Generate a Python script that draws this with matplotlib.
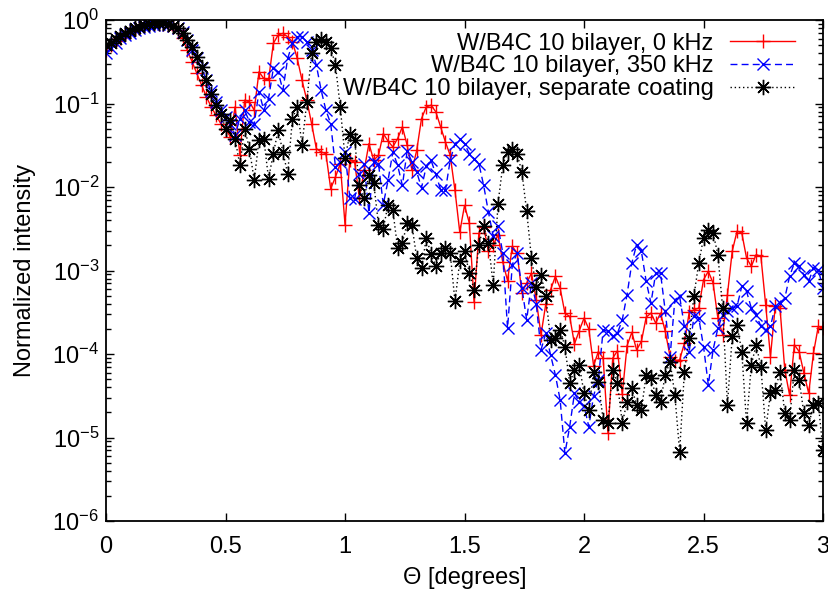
import numpy as np
import matplotlib
matplotlib.use("Agg")
import matplotlib.pyplot as plt
from matplotlib.ticker import FormatStrFormatter, LogLocator, LogFormatterSciNotation

plt.rcParams['font.family'] = ['Liberation Sans', 'DejaVu Sans']
plt.rcParams['mathtext.default'] = 'regular'
plt.rcParams['axes.unicode_minus'] = False

# angle grid (degrees), one reading every 0.02
theta = np.linspace(0, 3, 151)

# log10 of the normalized intensity
red_log = [
    -0.36, -0.30, -0.25, -0.21, -0.17, -0.14, -0.11, -0.09, -0.07, -0.06,
    -0.05, -0.05, -0.05, -0.06, -0.08, -0.12, -0.22, -0.36, -0.50, -0.64,
    -0.78, -0.92, -1.04, -1.14, -1.24, -1.30, -1.40, -1.04, -1.62, -0.96,
    -0.98, -1.08, -0.62, -0.70, -0.72, -0.28, -0.18, -0.16, -0.20, -0.26,
    -0.46, -0.72, -0.96, -1.24, -1.54, -1.58, -1.60, -2.02, -1.88, -1.72,
    -2.45, -1.68, -1.70, -2.13, -1.80, -1.48, -1.68, -1.62, -1.36, -1.45,
    -1.52, -1.42, -1.28, -1.50, -1.80, -1.56, -1.18, -1.04, -1.02, -1.10,
    -1.28, -1.46, -1.62, -2.04, -2.54, -2.22, -2.43, -3.38, -2.55, -2.48,
    -2.77, -2.70, -2.57, -2.90, -3.12, -2.71, -2.79, -3.27, -3.15, -3.03,
    -3.35, -3.77, -3.40, -3.23, -3.07, -3.21, -3.51, -3.55, -3.88, -3.72,
    -3.57, -3.70, -4.14, -3.97, -4.05, -4.94, -4.05, -3.96, -4.48, -3.90,
    -3.74, -3.95, -3.85, -3.56, -3.51, -3.63, -3.51, -3.73, -4.03, -4.08,
    -4.07, -3.87, -3.50, -3.47, -3.45, -3.11, -3.01, -3.15, -3.57, -3.77,
    -3.29, -2.77, -2.53, -2.55, -2.85, -2.95, -2.81, -2.83, -3.41, -4.03,
    -3.43, -3.45, -4.19, -4.49, -3.89, -3.97, -4.23, -4.47, -3.99, -3.67,
    -3.69,
]

blue_log = [
    -0.40, -0.33, -0.27, -0.22, -0.18, -0.15, -0.12, -0.10, -0.08, -0.07,
    -0.06, -0.05, -0.05, -0.06, -0.07, -0.09, -0.14, -0.24, -0.36, -0.46,
    -0.58, -0.72, -0.85, -0.98, -1.08, -1.16, -1.24, -1.38, -1.18, -1.08,
    -1.22, -1.24, -0.86, -1.08, -0.94, -0.58, -0.62, -0.84, -0.46, -0.28,
    -0.20, -0.20, -0.26, -0.36, -0.54, -0.84, -1.08, -1.24, -1.76, -1.70,
    -1.58, -2.13, -2.14, -1.85, -1.72, -2.31, -1.70, -1.72, -2.21, -1.92,
    -1.58, -1.74, -1.98, -1.57, -1.70, -1.82, -2.01, -1.75, -1.68, -1.85,
    -2.03, -2.04, -1.68, -1.48, -1.43, -1.48, -1.60, -1.66, -1.72, -1.98,
    -2.30, -2.59, -2.47, -2.79, -3.69, -2.93, -2.79, -3.21, -3.59, -3.15,
    -3.40, -3.95, -3.75, -4.01, -4.25, -4.55, -5.19, -4.87, -4.47, -4.57,
    -4.62, -4.87, -4.50, -4.31, -3.71, -3.73, -3.79, -3.75, -3.59, -3.29,
    -2.91, -2.69, -2.77, -3.13, -3.39, -3.03, -3.03, -3.49, -4.03, -3.35,
    -3.31, -3.67, -3.97, -3.55, -3.57, -3.91, -4.37, -3.95, -3.69, -3.53,
    -3.48, -3.45, -3.43, -3.19, -3.25, -3.45, -3.53, -3.67, -3.71, -3.67,
    -3.43, -3.39, -3.33, -3.07, -2.91, -2.95, -3.05, -3.13, -2.97, -2.99,
    -3.21,
]

black_log = [
    -0.30, -0.27, -0.23, -0.19, -0.16, -0.13, -0.10, -0.08, -0.06, -0.05,
    -0.04, -0.04, -0.04, -0.05, -0.07, -0.10, -0.16, -0.24, -0.32, -0.44,
    -0.56, -0.72, -0.88, -1.02, -1.12, -1.30, -1.20, -1.42, -1.74, -1.30,
    -1.54, -1.92, -1.44, -1.42, -1.90, -1.60, -1.32, -1.58, -1.84, -1.18,
    -1.04, -1.50, -0.98, -0.40, -0.26, -0.23, -0.26, -0.33, -0.54, -1.04,
    -1.65, -1.37, -1.44, -1.98, -2.13, -1.86, -1.95, -2.45, -2.50, -2.21,
    -2.28, -2.73, -2.67, -2.43, -2.46, -2.85, -2.97, -2.61, -2.80, -2.95,
    -2.79, -2.73, -2.79, -3.37, -2.89, -2.77, -3.03, -3.23, -2.69, -2.47,
    -2.67, -3.17, -2.20, -1.74, -1.58, -1.54, -1.60, -1.82, -2.29, -2.85,
    -3.20, -3.05, -3.31, -3.83, -3.81, -3.71, -3.91, -4.35, -4.19, -4.13,
    -4.47, -4.67, -4.21, -4.33, -4.79, -4.83, -4.19, -4.35, -4.83, -4.57,
    -4.41, -4.61, -4.67, -4.25, -4.29, -4.49, -4.57, -4.25, -4.09, -4.49,
    -5.17, -4.21, -3.81, -3.30, -2.91, -2.61, -2.51, -2.55, -2.81, -3.45,
    -4.61, -3.79, -3.65, -3.97, -4.83, -4.13, -3.89, -4.15, -4.91, -4.47,
    -4.43, -4.21, -4.71, -4.79, -4.19, -4.31, -4.71, -4.85, -4.61, -4.59,
    -5.15,
]

labels = ["W/B4C 10 bilayer, 0 kHz",
          "W/B4C 10 bilayer, 350 kHz",
          "W/B4C 10 bilayer, separate coating"]

x_ticks = [0, 0.5, 1, 1.5, 2, 2.5, 3]
y_ticks = [1e-6, 1e-5, 1e-4, 1e-3, 1e-2, 1e-1, 1]

fig = plt.figure(figsize=(8.29, 5.96), dpi=100)
ax = fig.add_axes([0.1279, 0.1258, 0.8649, 0.8406])

ax.plot(theta, 10 ** np.array(red_log), color='#ff0000', lw=1.0, ls='-',
        marker='+', ms=10, mew=1.0, label=labels[0])
ax.plot(theta, 10 ** np.array(blue_log), color='#0000ff', lw=1.0, ls=(0, (5, 3)),
        marker='x', ms=8, mew=1.0, label=labels[1])
ax.plot(theta, 10 ** np.array(black_log), color='black', lw=1.0, ls=(0, (1, 2)),
        marker=(8, 2, 0), ms=11, mew=1.0, label=labels[2])

ax.set_yscale('log')
ax.set_xlim(0, 3)
ax.set_ylim(1e-6, 1)
ax.set_xticks(x_ticks)
ax.xaxis.set_major_formatter(FormatStrFormatter('%g'))
ax.set_yticks(y_ticks)
ax.yaxis.set_major_formatter(LogFormatterSciNotation())
ax.yaxis.set_minor_locator(LogLocator(base=10, subs=np.arange(2, 10), numticks=20))

ax.tick_params(which='both', direction='in', top=True, right=True, labelsize=17)
ax.tick_params(which='major', length=6, width=1)
ax.tick_params(which='minor', length=3.5, width=1)
ax.tick_params(axis='x', pad=11)
ax.tick_params(axis='y', pad=5)
for s in ax.spines.values():
    s.set_linewidth(1.3)

ax.set_xlabel("Θ [degrees]", fontsize=17)
ax.set_ylabel("Normalized intensity", fontsize=17)
ax.xaxis.set_label_coords(0.5, -0.092)
ax.yaxis.set_label_coords(-0.097, 0.5)

leg = ax.legend(loc='upper right', bbox_to_anchor=(0.961, 0.975), frameon=False,
                markerfirst=False, fontsize=17, handlelength=2.75,
                handletextpad=0.7, labelspacing=0.03, borderpad=0,
                borderaxespad=0)

fig.savefig("out.png", dpi=100)
